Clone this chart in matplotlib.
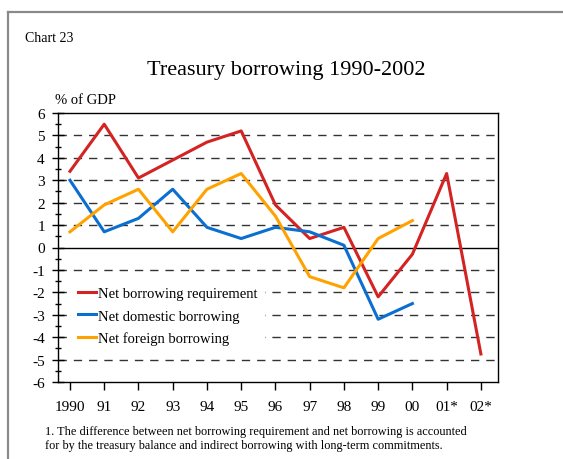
import numpy as np
import matplotlib.pyplot as plt
from matplotlib.lines import Line2D

plt.rcParams['font.family'] = ['Liberation Serif', 'DejaVu Serif']
plt.rcParams['axes.unicode_minus'] = False

# data (% of GDP)
years = ['1990', '91', '92', '93', '94', '95', '96', '97', '98', '99', '00', '01*', '02*']
net_requirement = [3.4, 5.5, 3.1, 3.9, 4.7, 5.2, 1.9, 0.4, 0.9, -2.2, -0.3, 3.3, -4.75]
net_domestic = [3.0, 0.7, 1.3, 2.6, 0.9, 0.4, 0.9, 0.7, 0.1, -3.2, -2.5]
net_foreign = [0.7, 1.9, 2.6, 0.7, 2.6, 3.3, 1.4, -1.3, -1.8, 0.4, 1.2]

labels = ['Net borrowing requirement', 'Net domestic borrowing', 'Net foreign borrowing']
colors = ['#d42323', '#0b6fd1', '#ffa200']

fig = plt.figure(figsize=(5.63, 4.6), dpi=100)
ax = fig.add_axes([58 / 563, 1 - 383 / 460, 440 / 563, 269 / 460])

# page frame
fig.add_artist(Line2D([8 / 563, 8 / 563], [0, 1 - 13 / 460], color='#8a8a8a', lw=1.6))
fig.add_artist(Line2D([8 / 563, 1], [1 - 13 / 460, 1 - 13 / 460], color='#8a8a8a', lw=1.6))

x = np.arange(len(years))
for yv in range(-5, 6):
    if yv == 0:
        ax.axhline(0, color='black', lw=1.0, zorder=1)
    else:
        ax.axhline(yv, color='#333333', lw=1.0, ls=(0, (6, 5)), zorder=1)

series = [net_requirement, net_domestic, net_foreign]
for vals, c, lab in zip(series, colors, labels):
    ax.plot(x[:len(vals)], vals, color=c, lw=2.2, label=lab, zorder=3)

ax.set_xlim(-0.35, 12.5)
ax.set_ylim(-6, 6)
ax.set_yticks(range(-6, 7))
ax.set_yticks(np.arange(-6, 6.1, 0.5), minor=True)
ax.set_xticks(x)
ax.set_xticklabels(years)
ax.tick_params(axis='y', which='major', direction='inout', length=9, width=1, labelsize=11, pad=5)
ax.tick_params(axis='y', which='minor', direction='inout', length=5, width=1)
ax.tick_params(axis='x', which='major', direction='out', length=6, width=1, labelsize=11, pad=7)
for s in ax.spines.values():
    s.set_linewidth(1.0)

leg = ax.legend(loc='upper left', bbox_to_anchor=(0.029, 0.380), frameon=True, fancybox=False,
                edgecolor='white', facecolor='white', framealpha=1, fontsize=10.5,
                handlelength=1.2, handletextpad=0.2, labelspacing=0.62, borderpad=0.5,
                borderaxespad=0)
leg.get_frame().set_linewidth(0)
leg.set_zorder(2)

fig.text(25 / 563, 1 - 38 / 460, 'Chart 23', fontsize=10, va='center', ha='left')
fig.text(286 / 563, 1 - 70 / 460, 'Treasury borrowing 1990-2002', fontsize=16, va='center', ha='center')
fig.text(55 / 563, 1 - 101 / 460, '% of GDP', fontsize=10.5, va='center', ha='left')
fig.text(45 / 563, 1 - 439 / 460,
         '1. The difference between net borrowing requirement and net borrowing is accounted\n'
         'for by the treasury balance and indirect borrowing with long-term commitments.',
         fontsize=8.8, va='center', ha='left', linespacing=1.3)

fig.savefig('out.png', dpi=100)
